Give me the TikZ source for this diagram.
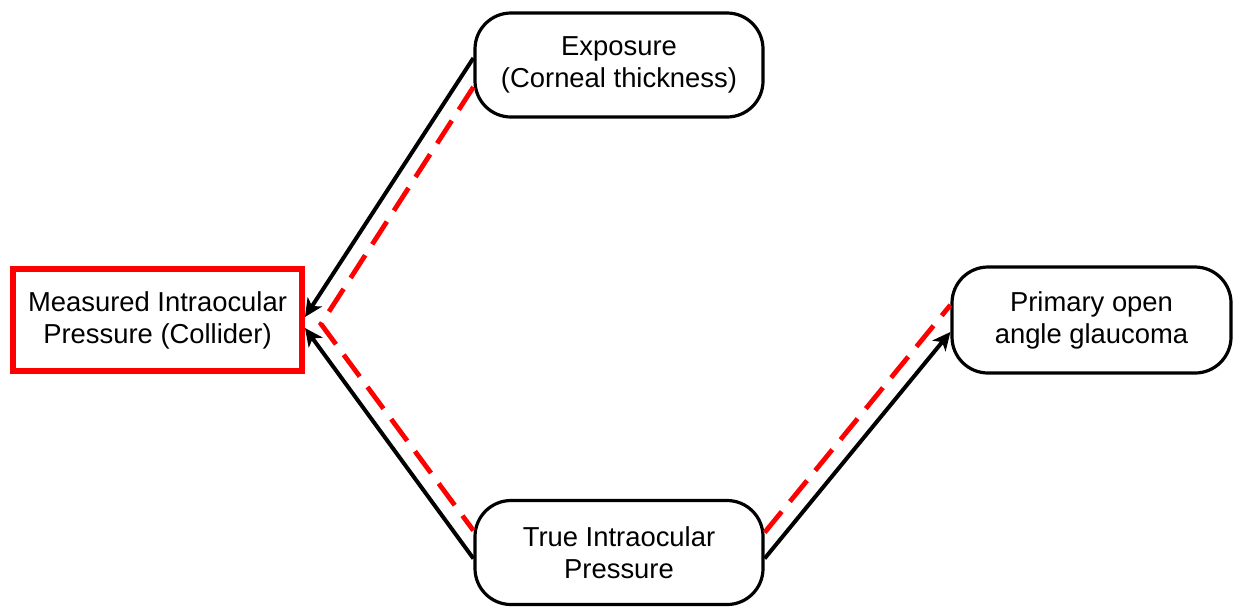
\documentclass[tikz,border=0pt]{standalone}
\usepackage{fontspec}
\setmainfont{Liberation Sans}
\usepackage{tikz}
\usepackage{xcolor}
\usetikzlibrary{arrows.meta}
\tikzset{
    var-box/.style = {draw=black, fill=white, line width=1.6pt, rectangle, rounded corners=18pt, align=center, minimum width=144pt, minimum height=52pt, inner sep=0pt, font=\fontsize{13.7}{16}\selectfont},
    collider-box/.style = {draw=red, fill=white, line width=3pt, rectangle, align=center, minimum width=144.5pt, minimum height=51pt, inner sep=0pt, font=\fontsize{13.7}{16}\selectfont},
    causal-arrow/.style = {draw=black, line width=2pt, -{Stealth[length=9pt,width=8.5pt,inset=2.5pt]}},
    biased-path/.style = {draw=red, line width=2.4pt, dash pattern=on 13.5pt off 6.5pt, line join=miter},
}

\begin{document}
\begin{tikzpicture}[x=0.5pt, y=-0.5pt]
\useasboundingbox (0,0) rectangle (1234,607);
\node [var-box] (exposure) at (619,65) {Exposure\\(Corneal thickness)};
\node [collider-box] (measured) at (157.5,320) {Measured Intraocular\\Pressure (Collider)};
\node [var-box] (trueiop) at (619,552.5) {True Intraocular\\Pressure};
\node [var-box, minimum width=139.5pt, minimum height=53pt] (poag) at (1091.5,320) {Primary open\\angle glaucoma};
\coordinate (bend) at (321,324);
% open path through the collider
\draw [biased-path] ([yshift=-11pt]exposure.west) -- (bend) -- ([yshift=11pt]trueiop.west);
\draw [biased-path] ([yshift=10pt]trueiop.east) -- ([yshift=7.5pt]poag.west);
% causal arrows
\draw [causal-arrow] ([yshift=3.5pt]exposure.west) -- ([yshift=1.5pt]measured.east);
\draw [causal-arrow] ([yshift=-3pt]trueiop.west) -- ([yshift=-4pt]measured.east);
\draw [causal-arrow] ([yshift=-3pt]trueiop.east) -- ([yshift=-6pt]poag.west);
\end{tikzpicture}
\end{document}
